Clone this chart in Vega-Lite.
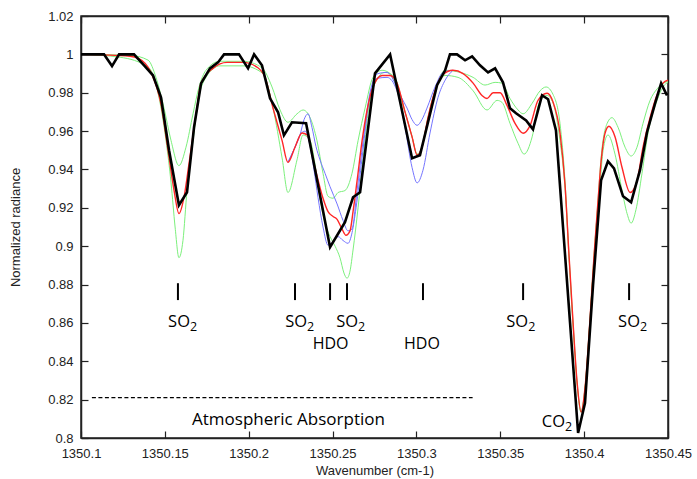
{
  "$schema": "https://vega.github.io/schema/vega-lite/v6.json",
  "width": 587,
  "height": 422,
  "autosize": {"type": "none"},
  "padding": {"left": 81, "top": 16, "right": 29, "bottom": 41},
  "background": "white",
  "config": {
    "view": {"stroke": "#222", "strokeWidth": 1.5},
    "axis": {
      "labelFont": "Liberation Sans",
      "labelFontSize": 13,
      "labelColor": "#222",
      "titleFont": "Liberation Sans",
      "titleFontSize": 13,
      "titleFontWeight": "normal",
      "titleColor": "#222",
      "domainColor": "#222",
      "domainWidth": 1.5,
      "tickColor": "#222",
      "tickWidth": 1.2,
      "grid": false
    }
  },
  "datasets": {
    "curves": [
      {"s":"SO2 weaker","x":1350.1,"y":1},{"s":"SO2 weaker","x":1350.1292,"y":0.9995},{"s":"SO2 weaker","x":1350.14,"y":0.997},{"s":"SO2 weaker","x":1350.1447,"y":0.988},{"s":"SO2 weaker","x":1350.1495,"y":0.972},{"s":"SO2 weaker","x":1350.1537,"y":0.955},{"s":"SO2 weaker","x":1350.1584,"y":0.942},{"s":"SO2 weaker","x":1350.1626,"y":0.9516},{"s":"SO2 weaker","x":1350.1668,"y":0.969},{"s":"SO2 weaker","x":1350.1704,"y":0.983},{"s":"SO2 weaker","x":1350.1745,"y":0.9917},{"s":"SO2 weaker","x":1350.1829,"y":0.9964},{"s":"SO2 weaker","x":1350.1966,"y":0.9964},{"s":"SO2 weaker","x":1350.2079,"y":0.993},{"s":"SO2 weaker","x":1350.2139,"y":0.983},{"s":"SO2 weaker","x":1350.2187,"y":0.971},{"s":"SO2 weaker","x":1350.2234,"y":0.9646},{"s":"SO2 weaker","x":1350.2288,"y":0.969},{"s":"SO2 weaker","x":1350.2324,"y":0.971},{"s":"SO2 weaker","x":1350.2366,"y":0.967},{"s":"SO2 weaker","x":1350.2407,"y":0.955},{"s":"SO2 weaker","x":1350.2443,"y":0.938},{"s":"SO2 weaker","x":1350.2473,"y":0.926},{"s":"SO2 weaker","x":1350.2503,"y":0.925},{"s":"SO2 weaker","x":1350.2533,"y":0.928},{"s":"SO2 weaker","x":1350.2574,"y":0.929},{"s":"SO2 weaker","x":1350.2616,"y":0.938},{"s":"SO2 weaker","x":1350.2652,"y":0.955},{"s":"SO2 weaker","x":1350.2694,"y":0.972},{"s":"SO2 weaker","x":1350.2741,"y":0.988},{"s":"SO2 weaker","x":1350.2795,"y":0.9917},{"s":"SO2 weaker","x":1350.2843,"y":0.99},{"s":"SO2 weaker","x":1350.289,"y":0.981},{"s":"SO2 weaker","x":1350.2932,"y":0.97},{"s":"SO2 weaker","x":1350.2974,"y":0.957},{"s":"SO2 weaker","x":1350.3004,"y":0.948},{"s":"SO2 weaker","x":1350.3033,"y":0.9516},{"s":"SO2 weaker","x":1350.3069,"y":0.967},{"s":"SO2 weaker","x":1350.3111,"y":0.981},{"s":"SO2 weaker","x":1350.3171,"y":0.9917},{"s":"SO2 weaker","x":1350.326,"y":0.9906},{"s":"SO2 weaker","x":1350.3338,"y":0.988},{"s":"SO2 weaker","x":1350.3409,"y":0.984},{"s":"SO2 weaker","x":1350.3469,"y":0.9854},{"s":"SO2 weaker","x":1350.351,"y":0.985},{"s":"SO2 weaker","x":1350.3558,"y":0.977},{"s":"SO2 weaker","x":1350.3606,"y":0.971},{"s":"SO2 weaker","x":1350.3636,"y":0.969},{"s":"SO2 weaker","x":1350.369,"y":0.9745},{"s":"SO2 weaker","x":1350.3737,"y":0.981},{"s":"SO2 weaker","x":1350.3773,"y":0.983},{"s":"SO2 weaker","x":1350.3815,"y":0.979},{"s":"SO2 weaker","x":1350.3856,"y":0.964},{"s":"SO2 weaker","x":1350.3886,"y":0.934},{"s":"SO2 weaker","x":1350.391,"y":0.895},{"s":"SO2 weaker","x":1350.3934,"y":0.86},{"s":"SO2 weaker","x":1350.3958,"y":0.829},{"s":"SO2 weaker","x":1350.3982,"y":0.8135},{"s":"SO2 weaker","x":1350.4005,"y":0.826},{"s":"SO2 weaker","x":1350.4035,"y":0.862},{"s":"SO2 weaker","x":1350.4059,"y":0.895},{"s":"SO2 weaker","x":1350.4083,"y":0.924},{"s":"SO2 weaker","x":1350.4101,"y":0.946},{"s":"SO2 weaker","x":1350.4137,"y":0.964},{"s":"SO2 weaker","x":1350.4166,"y":0.967},{"s":"SO2 weaker","x":1350.4202,"y":0.962},{"s":"SO2 weaker","x":1350.4244,"y":0.9516},{"s":"SO2 weaker","x":1350.428,"y":0.947},{"s":"SO2 weaker","x":1350.4315,"y":0.9516},{"s":"SO2 weaker","x":1350.4351,"y":0.964},{"s":"SO2 weaker","x":1350.4393,"y":0.976},{"s":"SO2 weaker","x":1350.4435,"y":0.982},{"s":"SO2 weaker","x":1350.4482,"y":0.9854},{"s":"SO2 weaker","x":1350.45,"y":0.986},

      {"s":"SO2 stronger","x":1350.1,"y":1},{"s":"SO2 stronger","x":1350.1233,"y":0.9985},{"s":"SO2 stronger","x":1350.1405,"y":0.993},{"s":"SO2 stronger","x":1350.1465,"y":0.9776},{"s":"SO2 stronger","x":1350.1507,"y":0.955},{"s":"SO2 stronger","x":1350.1537,"y":0.933},{"s":"SO2 stronger","x":1350.1561,"y":0.91},{"s":"SO2 stronger","x":1350.1584,"y":0.894},{"s":"SO2 stronger","x":1350.1608,"y":0.903},{"s":"SO2 stronger","x":1350.1632,"y":0.929},{"s":"SO2 stronger","x":1350.1668,"y":0.955},{"s":"SO2 stronger","x":1350.1704,"y":0.978},{"s":"SO2 stronger","x":1350.1745,"y":0.988},{"s":"SO2 stronger","x":1350.1829,"y":0.994},{"s":"SO2 stronger","x":1350.1966,"y":0.994},{"s":"SO2 stronger","x":1350.2085,"y":0.99},{"s":"SO2 stronger","x":1350.2145,"y":0.972},{"s":"SO2 stronger","x":1350.2199,"y":0.946},{"s":"SO2 stronger","x":1350.2234,"y":0.928},{"s":"SO2 stronger","x":1350.2288,"y":0.945},{"s":"SO2 stronger","x":1350.2324,"y":0.958},{"s":"SO2 stronger","x":1350.2366,"y":0.955},{"s":"SO2 stronger","x":1350.2395,"y":0.943},{"s":"SO2 stronger","x":1350.2425,"y":0.925},{"s":"SO2 stronger","x":1350.2455,"y":0.912},{"s":"SO2 stronger","x":1350.2485,"y":0.905},{"s":"SO2 stronger","x":1350.2515,"y":0.9},{"s":"SO2 stronger","x":1350.2544,"y":0.894},{"s":"SO2 stronger","x":1350.2568,"y":0.886},{"s":"SO2 stronger","x":1350.2586,"y":0.8833},{"s":"SO2 stronger","x":1350.2604,"y":0.887},{"s":"SO2 stronger","x":1350.2622,"y":0.898},{"s":"SO2 stronger","x":1350.2652,"y":0.92},{"s":"SO2 stronger","x":1350.2682,"y":0.946},{"s":"SO2 stronger","x":1350.2711,"y":0.969},{"s":"SO2 stronger","x":1350.2753,"y":0.985},{"s":"SO2 stronger","x":1350.2813,"y":0.9906},{"s":"SO2 stronger","x":1350.2872,"y":0.988},{"s":"SO2 stronger","x":1350.2902,"y":0.98},{"s":"SO2 stronger","x":1350.2932,"y":0.97},{"s":"SO2 stronger","x":1350.2974,"y":0.957},{"s":"SO2 stronger","x":1350.3004,"y":0.948},{"s":"SO2 stronger","x":1350.3033,"y":0.9516},{"s":"SO2 stronger","x":1350.3069,"y":0.967},{"s":"SO2 stronger","x":1350.3111,"y":0.981},{"s":"SO2 stronger","x":1350.3171,"y":0.989},{"s":"SO2 stronger","x":1350.3248,"y":0.988},{"s":"SO2 stronger","x":1350.3338,"y":0.981},{"s":"SO2 stronger","x":1350.3421,"y":0.971},{"s":"SO2 stronger","x":1350.3481,"y":0.976},{"s":"SO2 stronger","x":1350.351,"y":0.975},{"s":"SO2 stronger","x":1350.3558,"y":0.964},{"s":"SO2 stronger","x":1350.3606,"y":0.9536},{"s":"SO2 stronger","x":1350.3642,"y":0.948},{"s":"SO2 stronger","x":1350.369,"y":0.957},{"s":"SO2 stronger","x":1350.3731,"y":0.9745},{"s":"SO2 stronger","x":1350.3779,"y":0.9786},{"s":"SO2 stronger","x":1350.3815,"y":0.9745},{"s":"SO2 stronger","x":1350.3856,"y":0.955},{"s":"SO2 stronger","x":1350.3886,"y":0.93},{"s":"SO2 stronger","x":1350.391,"y":0.893},{"s":"SO2 stronger","x":1350.3934,"y":0.858},{"s":"SO2 stronger","x":1350.3958,"y":0.828},{"s":"SO2 stronger","x":1350.3982,"y":0.8135},{"s":"SO2 stronger","x":1350.4005,"y":0.826},{"s":"SO2 stronger","x":1350.4035,"y":0.862},{"s":"SO2 stronger","x":1350.4059,"y":0.895},{"s":"SO2 stronger","x":1350.4083,"y":0.922},{"s":"SO2 stronger","x":1350.4095,"y":0.933},{"s":"SO2 stronger","x":1350.4113,"y":0.95},{"s":"SO2 stronger","x":1350.4142,"y":0.958},{"s":"SO2 stronger","x":1350.4184,"y":0.948},{"s":"SO2 stronger","x":1350.4226,"y":0.929},{"s":"SO2 stronger","x":1350.4256,"y":0.917},{"s":"SO2 stronger","x":1350.428,"y":0.912},{"s":"SO2 stronger","x":1350.4309,"y":0.919},{"s":"SO2 stronger","x":1350.4345,"y":0.938},{"s":"SO2 stronger","x":1350.4381,"y":0.959},{"s":"SO2 stronger","x":1350.4435,"y":0.976},{"s":"SO2 stronger","x":1350.447,"y":0.983},{"s":"SO2 stronger","x":1350.45,"y":0.9854},

      {"s":"HDO weaker","x":1350.2234,"y":0.9437},{"s":"HDO weaker","x":1350.2276,"y":0.9516},{"s":"HDO weaker","x":1350.2306,"y":0.958},{"s":"HDO weaker","x":1350.233,"y":0.966},{"s":"HDO weaker","x":1350.2354,"y":0.969},{"s":"HDO weaker","x":1350.2377,"y":0.962},{"s":"HDO weaker","x":1350.2401,"y":0.952},{"s":"HDO weaker","x":1350.2425,"y":0.945},{"s":"HDO weaker","x":1350.2455,"y":0.938},{"s":"HDO weaker","x":1350.2485,"y":0.931},{"s":"HDO weaker","x":1350.2527,"y":0.922},{"s":"HDO weaker","x":1350.2562,"y":0.9135},{"s":"HDO weaker","x":1350.2592,"y":0.908},{"s":"HDO weaker","x":1350.2616,"y":0.909},{"s":"HDO weaker","x":1350.2646,"y":0.929},{"s":"HDO weaker","x":1350.2682,"y":0.955},{"s":"HDO weaker","x":1350.2723,"y":0.98},{"s":"HDO weaker","x":1350.2771,"y":0.99},{"s":"HDO weaker","x":1350.2825,"y":0.9906},{"s":"HDO weaker","x":1350.2872,"y":0.985},{"s":"HDO weaker","x":1350.2908,"y":0.978},{"s":"HDO weaker","x":1350.2944,"y":0.972},{"s":"HDO weaker","x":1350.2974,"y":0.966},{"s":"HDO weaker","x":1350.3004,"y":0.963},{"s":"HDO weaker","x":1350.3033,"y":0.966},{"s":"HDO weaker","x":1350.3063,"y":0.972},{"s":"HDO weaker","x":1350.3111,"y":0.983},{"s":"HDO weaker","x":1350.3159,"y":0.9906},{"s":"HDO weaker","x":1350.3218,"y":0.9917},

      {"s":"HDO stronger","x":1350.2234,"y":0.9437},{"s":"HDO stronger","x":1350.2276,"y":0.9516},{"s":"HDO stronger","x":1350.2306,"y":0.958},{"s":"HDO stronger","x":1350.2336,"y":0.96},{"s":"HDO stronger","x":1350.2366,"y":0.952},{"s":"HDO stronger","x":1350.2389,"y":0.94},{"s":"HDO stronger","x":1350.2413,"y":0.9255},{"s":"HDO stronger","x":1350.2443,"y":0.91},{"s":"HDO stronger","x":1350.2473,"y":0.9005},{"s":"HDO stronger","x":1350.2503,"y":0.9025},{"s":"HDO stronger","x":1350.2533,"y":0.905},{"s":"HDO stronger","x":1350.2562,"y":0.903},{"s":"HDO stronger","x":1350.2592,"y":0.9015},{"s":"HDO stronger","x":1350.2616,"y":0.907},{"s":"HDO stronger","x":1350.264,"y":0.92},{"s":"HDO stronger","x":1350.2676,"y":0.946},{"s":"HDO stronger","x":1350.2711,"y":0.972},{"s":"HDO stronger","x":1350.2765,"y":0.9875},{"s":"HDO stronger","x":1350.2825,"y":0.988},{"s":"HDO stronger","x":1350.2884,"y":0.981},{"s":"HDO stronger","x":1350.2932,"y":0.962},{"s":"HDO stronger","x":1350.2974,"y":0.941},{"s":"HDO stronger","x":1350.3004,"y":0.933},{"s":"HDO stronger","x":1350.3039,"y":0.9396},{"s":"HDO stronger","x":1350.3081,"y":0.959},{"s":"HDO stronger","x":1350.3129,"y":0.9776},{"s":"HDO stronger","x":1350.3171,"y":0.9865},{"s":"HDO stronger","x":1350.3218,"y":0.9917},

      {"s":"Model","x":1350.1,"y":1},{"s":"Model","x":1350.1292,"y":0.999},{"s":"Model","x":1350.134,"y":0.998},{"s":"Model","x":1350.1417,"y":0.9906},{"s":"Model","x":1350.1477,"y":0.974},{"s":"Model","x":1350.1519,"y":0.95},{"s":"Model","x":1350.1555,"y":0.929},{"s":"Model","x":1350.1584,"y":0.917},{"s":"Model","x":1350.1614,"y":0.9255},{"s":"Model","x":1350.1644,"y":0.943},{"s":"Model","x":1350.1686,"y":0.969},{"s":"Model","x":1350.1716,"y":0.985},{"s":"Model","x":1350.1787,"y":0.9927},{"s":"Model","x":1350.1871,"y":0.9958},{"s":"Model","x":1350.1966,"y":0.9958},{"s":"Model","x":1350.2055,"y":0.993},{"s":"Model","x":1350.2097,"y":0.988},{"s":"Model","x":1350.2145,"y":0.972},{"s":"Model","x":1350.2199,"y":0.955},{"s":"Model","x":1350.2234,"y":0.9437},{"s":"Model","x":1350.2276,"y":0.9516},{"s":"Model","x":1350.2318,"y":0.959},{"s":"Model","x":1350.2348,"y":0.958},{"s":"Model","x":1350.2395,"y":0.941},{"s":"Model","x":1350.2443,"y":0.925},{"s":"Model","x":1350.2473,"y":0.918},{"s":"Model","x":1350.2503,"y":0.9155},{"s":"Model","x":1350.2527,"y":0.914},{"s":"Model","x":1350.2556,"y":0.909},{"s":"Model","x":1350.258,"y":0.9057},{"s":"Model","x":1350.2604,"y":0.908},{"s":"Model","x":1350.2622,"y":0.918},{"s":"Model","x":1350.2646,"y":0.934},{"s":"Model","x":1350.2676,"y":0.955},{"s":"Model","x":1350.2706,"y":0.971},{"s":"Model","x":1350.2741,"y":0.983},{"s":"Model","x":1350.2795,"y":0.989},{"s":"Model","x":1350.2843,"y":0.989},{"s":"Model","x":1350.2884,"y":0.985},{"s":"Model","x":1350.2932,"y":0.97},{"s":"Model","x":1350.2974,"y":0.957},{"s":"Model","x":1350.3004,"y":0.9475},{"s":"Model","x":1350.3033,"y":0.9516},{"s":"Model","x":1350.3069,"y":0.967},{"s":"Model","x":1350.3111,"y":0.981},{"s":"Model","x":1350.3153,"y":0.989},{"s":"Model","x":1350.3218,"y":0.9917},{"s":"Model","x":1350.3278,"y":0.99},{"s":"Model","x":1350.3338,"y":0.985},{"s":"Model","x":1350.3391,"y":0.9786},{"s":"Model","x":1350.3421,"y":0.977},{"s":"Model","x":1350.3457,"y":0.98},{"s":"Model","x":1350.3499,"y":0.98},{"s":"Model","x":1350.354,"y":0.9734},{"s":"Model","x":1350.3588,"y":0.964},{"s":"Model","x":1350.3636,"y":0.9589},{"s":"Model","x":1350.3678,"y":0.963},{"s":"Model","x":1350.3725,"y":0.976},{"s":"Model","x":1350.3779,"y":0.9797},{"s":"Model","x":1350.3815,"y":0.975},{"s":"Model","x":1350.3856,"y":0.959},{"s":"Model","x":1350.3886,"y":0.932},{"s":"Model","x":1350.391,"y":0.895},{"s":"Model","x":1350.3934,"y":0.86},{"s":"Model","x":1350.3958,"y":0.829},{"s":"Model","x":1350.3982,"y":0.8135},{"s":"Model","x":1350.4005,"y":0.826},{"s":"Model","x":1350.4035,"y":0.862},{"s":"Model","x":1350.4059,"y":0.895},{"s":"Model","x":1350.4083,"y":0.924},{"s":"Model","x":1350.4101,"y":0.944},{"s":"Model","x":1350.4125,"y":0.959},{"s":"Model","x":1350.4148,"y":0.9625},{"s":"Model","x":1350.4184,"y":0.957},{"s":"Model","x":1350.4226,"y":0.941},{"s":"Model","x":1350.4274,"y":0.928},{"s":"Model","x":1350.4315,"y":0.934},{"s":"Model","x":1350.4351,"y":0.9516},{"s":"Model","x":1350.4393,"y":0.967},{"s":"Model","x":1350.4435,"y":0.979},{"s":"Model","x":1350.447,"y":0.985},{"s":"Model","x":1350.45,"y":0.9865},

      {"s":"Observed","x":1350.1,"y":1},{"s":"Observed","x":1350.1137,"y":1},{"s":"Observed","x":1350.1185,"y":0.9939},{"s":"Observed","x":1350.1227,"y":1},{"s":"Observed","x":1350.1316,"y":1},{"s":"Observed","x":1350.1376,"y":0.9943},{"s":"Observed","x":1350.1429,"y":0.9891},{"s":"Observed","x":1350.1477,"y":0.9776},{"s":"Observed","x":1350.1525,"y":0.95},{"s":"Observed","x":1350.1584,"y":0.9214},{"s":"Observed","x":1350.1632,"y":0.9281},{"s":"Observed","x":1350.1674,"y":0.962},{"s":"Observed","x":1350.1716,"y":0.9849},{"s":"Observed","x":1350.1769,"y":0.9927},{"s":"Observed","x":1350.1817,"y":0.9958},{"s":"Observed","x":1350.1853,"y":1},{"s":"Observed","x":1350.1942,"y":1},{"s":"Observed","x":1350.1996,"y":0.9927},{"s":"Observed","x":1350.2032,"y":1},{"s":"Observed","x":1350.2079,"y":0.9943},{"s":"Observed","x":1350.2127,"y":0.9771},{"s":"Observed","x":1350.2175,"y":0.9698},{"s":"Observed","x":1350.221,"y":0.9578},{"s":"Observed","x":1350.2258,"y":0.9646},{"s":"Observed","x":1350.2342,"y":0.9641},{"s":"Observed","x":1350.2485,"y":0.8995},{"s":"Observed","x":1350.2574,"y":0.9125},{"s":"Observed","x":1350.2622,"y":0.9255},{"s":"Observed","x":1350.2664,"y":0.9281},{"s":"Observed","x":1350.2753,"y":0.9901},{"s":"Observed","x":1350.2843,"y":1},{"s":"Observed","x":1350.2974,"y":0.9458},{"s":"Observed","x":1350.3021,"y":0.9474},{"s":"Observed","x":1350.3123,"y":0.9839},{"s":"Observed","x":1350.3171,"y":0.9917},{"s":"Observed","x":1350.32,"y":1},{"s":"Observed","x":1350.3242,"y":1},{"s":"Observed","x":1350.329,"y":0.9969},{"s":"Observed","x":1350.3332,"y":0.999},{"s":"Observed","x":1350.3379,"y":0.9943},{"s":"Observed","x":1350.3427,"y":0.9906},{"s":"Observed","x":1350.3469,"y":0.9927},{"s":"Observed","x":1350.3516,"y":0.9854},{"s":"Observed","x":1350.3558,"y":0.9719},{"s":"Observed","x":1350.3594,"y":0.9693},{"s":"Observed","x":1350.3654,"y":0.9656},{"s":"Observed","x":1350.3695,"y":0.9609},{"s":"Observed","x":1350.3749,"y":0.9787},{"s":"Observed","x":1350.3785,"y":0.9766},{"s":"Observed","x":1350.3832,"y":0.9604},{"s":"Observed","x":1350.3874,"y":0.91},{"s":"Observed","x":1350.3916,"y":0.86},{"s":"Observed","x":1350.3964,"y":0.8026},{"s":"Observed","x":1350.4005,"y":0.8182},{"s":"Observed","x":1350.4053,"y":0.8797},{"s":"Observed","x":1350.4101,"y":0.9344},{"s":"Observed","x":1350.4142,"y":0.9443},{"s":"Observed","x":1350.4178,"y":0.9406},{"s":"Observed","x":1350.4232,"y":0.926},{"s":"Observed","x":1350.428,"y":0.9229},{"s":"Observed","x":1350.4333,"y":0.9396},{"s":"Observed","x":1350.4375,"y":0.9594},{"s":"Observed","x":1350.4423,"y":0.9745},{"s":"Observed","x":1350.4459,"y":0.9849},{"s":"Observed","x":1350.4494,"y":0.9786}
    ],
    "lines": [
      {"species":"SO2","x":1350.1578},{"species":"SO2","x":1350.2276},{"species":"HDO","x":1350.2485},{"species":"SO2","x":1350.2586},{"species":"HDO","x":1350.3039},{"species":"SO2","x":1350.3636},{"species":"SO2","x":1350.4268}
    ],
    "molecules": [
      {"main":"SO","sub":"2","x":1350.165,"y":0.8578},
      {"main":"SO","sub":"2","x":1350.2348,"y":0.8578},
      {"main":"SO","sub":"2","x":1350.2652,"y":0.8578},
      {"main":"SO","sub":"2","x":1350.3666,"y":0.8578},
      {"main":"SO","sub":"2","x":1350.4333,"y":0.8578},
      {"main":"CO","sub":"2","x":1350.3886,"y":0.8057}
    ],
    "hdo": [
      {"label":"HDO","x":1350.2488,"y":0.8462},
      {"label":"HDO","x":1350.3033,"y":0.8462}
    ],
    "absorption": [
      {"label":"Atmospheric Absorption","x0":1350.1065,"x1":1350.3335,"y":0.821,"tx":1350.1662,"ty":0.8068}
    ]
  },
  "resolve": {"axis": {"x": "independent", "y": "independent"}},
  "layer": [
    {
      "data": {"name": "curves"},
      "transform": [{"filter": "datum.s === 'SO2 weaker' || datum.s === 'SO2 stronger'"}],
      "mark": {"type": "line", "clip": true, "interpolate": "monotone", "color": "#7cf07c", "strokeWidth": 1},
      "encoding": {
        "x": {"field": "x", "type": "quantitative",
          "scale": {"domain": [1350.1, 1350.45], "nice": false, "zero": false},
          "axis": {"orient": "bottom", "title": "Wavenumber (cm-1)", "values": [1350.1, 1350.15, 1350.2, 1350.25, 1350.3, 1350.35, 1350.4, 1350.45], "format": "~g", "tickSize": -7, "labelPadding": 16, "titlePadding": 4, "labelFlush": false}},
        "y": {"field": "y", "type": "quantitative",
          "scale": {"domain": [0.8, 1.02], "nice": false, "zero": false},
          "axis": {"orient": "left", "title": "Normalized radiance", "values": [0.8, 0.82, 0.84, 0.86, 0.88, 0.9, 0.92, 0.94, 0.96, 0.98, 1, 1.02], "format": "~g", "tickSize": -7, "labelPadding": 15, "titlePadding": 25}},
        "detail": {"field": "s", "type": "nominal"}
      }
    },
    {
      "data": {"name": "curves"},
      "transform": [{"filter": "datum.s === 'HDO weaker' || datum.s === 'HDO stronger'"}],
      "mark": {"type": "line", "clip": true, "interpolate": "monotone", "color": "#7474ff", "strokeWidth": 1},
      "encoding": {
        "x": {"field": "x", "type": "quantitative", "axis": null},
        "y": {"field": "y", "type": "quantitative", "axis": null},
        "detail": {"field": "s", "type": "nominal"}
      }
    },
    {
      "data": {"name": "curves"},
      "transform": [{"filter": "datum.s === 'Model'"}],
      "mark": {"type": "line", "clip": true, "interpolate": "monotone", "color": "#ff2626", "strokeWidth": 1.4},
      "encoding": {
        "x": {"field": "x", "type": "quantitative", "axis": null},
        "y": {"field": "y", "type": "quantitative", "axis": null}
      }
    },
    {
      "data": {"name": "curves"},
      "transform": [{"filter": "datum.s === 'Observed'"}],
      "mark": {"type": "line", "clip": true, "color": "#000000", "strokeWidth": 2.6, "strokeJoin": "miter"},
      "encoding": {
        "x": {"field": "x", "type": "quantitative", "axis": null},
        "y": {"field": "y", "type": "quantitative", "axis": null}
      }
    },
    {
      "data": {"name": "lines"},
      "mark": {"type": "rule", "color": "#000", "strokeWidth": 2},
      "encoding": {
        "x": {"field": "x", "type": "quantitative", "axis": null},
        "y": {"datum": 0.8807, "type": "quantitative", "axis": null},
        "y2": {"datum": 0.8719}
      }
    },
    {
      "data": {"name": "absorption"},
      "mark": {"type": "rule", "color": "#000", "strokeWidth": 1.3, "strokeDash": [4, 2.5]},
      "encoding": {
        "x": {"field": "x0", "type": "quantitative",
          "axis": {"orient": "top", "labels": false, "title": null, "values": [1350.1, 1350.15, 1350.2, 1350.25, 1350.3, 1350.35, 1350.4, 1350.45], "tickSize": -7}},
        "x2": {"field": "x1"},
        "y": {"field": "y", "type": "quantitative",
          "axis": {"orient": "right", "labels": false, "title": null, "values": [0.8, 0.82, 0.84, 0.86, 0.88, 0.9, 0.92, 0.94, 0.96, 0.98, 1, 1.02], "tickSize": -7}}
      }
    },
    {
      "data": {"name": "absorption"},
      "mark": {"type": "text", "font": "Open Sans", "fontSize": 17, "align": "left", "baseline": "alphabetic", "color": "#000"},
      "encoding": {
        "x": {"field": "tx", "type": "quantitative", "axis": null},
        "y": {"field": "ty", "type": "quantitative", "axis": null},
        "text": {"field": "label"}
      }
    },
    {
      "data": {"name": "molecules"},
      "mark": {"type": "text", "font": "Open Sans", "fontSize": 16.5, "align": "right", "baseline": "alphabetic", "color": "#000"},
      "encoding": {
        "x": {"field": "x", "type": "quantitative", "axis": null},
        "y": {"field": "y", "type": "quantitative", "axis": null},
        "text": {"field": "main"}
      }
    },
    {
      "data": {"name": "molecules"},
      "mark": {"type": "text", "font": "Open Sans", "fontSize": 12.5, "align": "left", "baseline": "alphabetic", "dy": 3.5, "color": "#000"},
      "encoding": {
        "x": {"field": "x", "type": "quantitative", "axis": null},
        "y": {"field": "y", "type": "quantitative", "axis": null},
        "text": {"field": "sub"}
      }
    },
    {
      "data": {"name": "hdo"},
      "mark": {"type": "text", "font": "Open Sans", "fontSize": 16, "align": "center", "baseline": "alphabetic", "color": "#000"},
      "encoding": {
        "x": {"field": "x", "type": "quantitative", "axis": null},
        "y": {"field": "y", "type": "quantitative", "axis": null},
        "text": {"field": "label"}
      }
    }
  ]
}
